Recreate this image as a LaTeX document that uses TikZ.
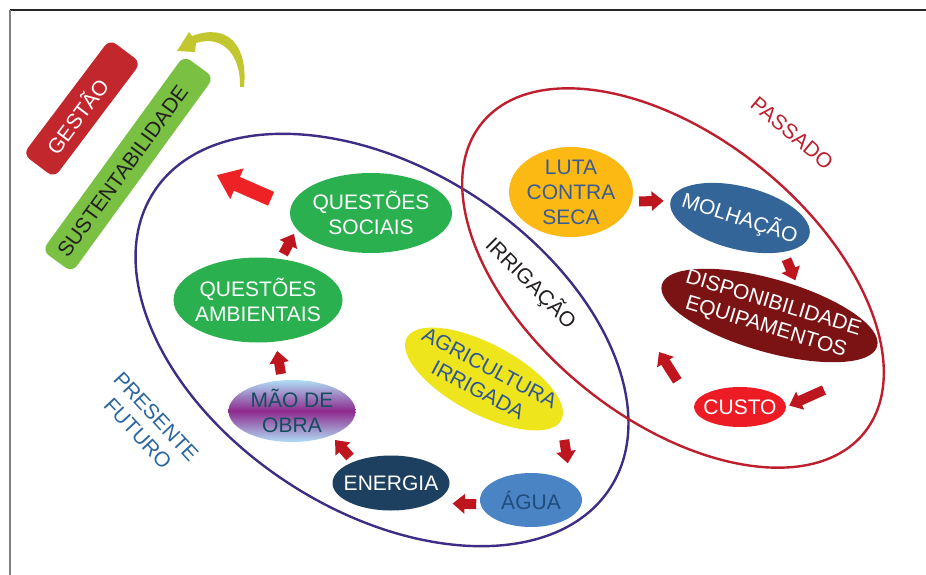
\documentclass[tikz,border=0pt]{standalone}
\usepackage{fontspec}
\setmainfont{Liberation Sans}
\usetikzlibrary{arrows.meta}
\usetikzlibrary{shapes.geometric}
\usetikzlibrary{calc}

\definecolor{vermgestao}{HTML}{C1272D}
\definecolor{verdesust}{HTML}{7AC143}
\definecolor{oliva}{HTML}{C3C72F}
\definecolor{azulelipse}{HTML}{3F2D85}
\definecolor{vermelipse}{HTML}{BE1E2D}
\definecolor{verdeq}{HTML}{2AB04F}
\definecolor{laranja}{HTML}{FDB913}
\definecolor{textoluta}{HTML}{3A5C94}
\definecolor{azulmolha}{HTML}{336598}
\definecolor{vinho}{HTML}{7B1315}
\definecolor{vermcusto}{HTML}{ED1C24}
\definecolor{azulnoite}{HTML}{1D3F60}
\definecolor{azulagua}{HTML}{4A84C4}
\definecolor{textoagua}{HTML}{1E4C7C}
\definecolor{amarelo}{HTML}{EEE51C}
\definecolor{textoagri}{HTML}{2F5697}
\definecolor{azulclaro}{HTML}{AEDDF5}
\definecolor{roxo}{HTML}{8E2A8D}
\definecolor{textomao}{HTML}{124E5E}
\definecolor{setavinho}{HTML}{BE161E}
\definecolor{setavermelha}{HTML}{EE2225}
\definecolor{azulpresente}{HTML}{2B679E}
\definecolor{quasepreto}{HTML}{231F20}

\tikzset{
  bolha/.style={ellipse, inner sep=0pt, outer sep=0pt},
  caixa/.style={rectangle, rounded corners=8pt, inner sep=0pt},
  rotulo/.style={align=center, inner sep=0pt, font=\fontsize{21}{25}\selectfont},
  seta/.style={draw=setavinho, line width=10pt, -{Triangle[width=19pt,length=12pt]}},
  setagrande/.style={draw=setavermelha, line width=15pt, -{Triangle[width=32pt,length=22pt]}}
}

\begin{document}
\begin{tikzpicture}[x=1pt,y=-1pt]

    \useasboundingbox (0,0) rectangle (926,575);

    % frame
    \draw[black!85, line width=1.4pt] (10,10) -- (926,10);
    \draw[black!50, line width=1.4pt] (10,10) -- (10,575);

    % big ellipses
    \draw[azulelipse, line width=2.4pt, rotate around={-33:(382,340)}] (382,340) ellipse [x radius=272pt, y radius=171pt];
    \draw[vermelipse, line width=2.4pt, rotate around={-39:(673,278)}] (673,278) ellipse [x radius=246pt, y radius=141pt];

    % boxes
    \node[caixa, fill=vermgestao, minimum width=144pt, minimum height=39pt, rotate=53] (gestao) at (82,108.5) {};
    \node[rotulo, white, rotate=53] (gestao-t) at ($(gestao.center)!9pt!(gestao.west)$) {GESTÃO};
    \node[caixa, fill=verdesust, minimum width=241pt, minimum height=37pt, rotate=54] (sust) at (128,164) {};
    \node[rotulo, text=quasepreto, rotate=54] (sust-t) at ($(sust.center)!9pt!(sust.west)$) {SUSTENTABILIDADE};

    % curved arrow
    \fill[oliva] (240,87) .. controls (241,58) and (225,34) .. (196,43) -- (195,52) -- (177,51) -- (189,32) -- (192,36) .. controls (230,22) and (248,48) .. (244,87) -- cycle;

    % left cycle
    \node[bolha, fill=verdeq, minimum width=162pt, minimum height=80pt] (sociais) at (371,213) {};
    \node[rotulo, white] (sociais-t) at (sociais) {QUESTÕES\\SOCIAIS};
    \node[bolha, fill=verdeq, minimum width=169pt, minimum height=85pt] (ambientais) at (258,300) {};
    \node[rotulo, white] (ambientais-t) at (ambientais) {QUESTÕES\\AMBIENTAIS};
    \node[bolha, top color=azulclaro, bottom color=azulclaro, middle color=roxo, minimum width=127pt, minimum height=62pt] (mao) at (292,411) {};
    \node[rotulo, text=textomao] (mao-t) at (mao) {MÃO DE\\OBRA};
    \node[bolha, fill=azulnoite, minimum width=117pt, minimum height=55pt] (energia) at (391,483) {};
    \node[rotulo, white] (energia-t) at (energia) {ENERGIA};
    \node[bolha, fill=azulagua, minimum width=102pt, minimum height=54pt] (agua) at (531,500) {};
    \node[rotulo, text=textoagua] (agua-t) at (agua) {ÁGUA};
    \node[bolha, fill=amarelo, minimum width=175pt, minimum height=70pt, rotate=-28] (agricultura) at (484,379) {};
    \node[rotulo, text=textoagri, rotate=-28] (agricultura-t) at (agricultura) {AGRICULTURA\\IRRIGADA};

    % right cycle
    \node[bolha, fill=laranja, minimum width=124pt, minimum height=90pt] (luta) at (571,192) {};
    \node[rotulo, text=textoluta] (luta-t) at (luta) {LUTA\\CONTRA\\SECA};
    \node[bolha, fill=azulmolha, minimum width=143pt, minimum height=63pt, rotate=-14] (molhacao) at (740,218) {};
    \node[rotulo, white, rotate=-18] (molhacao-t) at (molhacao) {MOLHAÇÃO};
    \node[bolha, fill=vinho, minimum width=224pt, minimum height=73pt, rotate=-16] (disp) at (769.5,315.5) {};
    \node[rotulo, white, rotate=-17] (disp-t) at (disp) {DISPONIBILIDADE\\EQUIPAMENTOS};
    \node[bolha, fill=vermcusto, minimum width=92pt, minimum height=40pt] (custo) at (740,407) {};
    \node[rotulo, white] (custo-t) at (custo) {CUSTO};

    % labels
    \node[rotulo, text=vermelipse, rotate=-40] (passado) at (792,133) {PASSADO};
    \node[rotulo, text=quasepreto, rotate=-45] (irrigacao) at (531,283) {IRRIGAÇÃO};
    \node[rotulo, text=azulpresente, rotate=-47] (presente) at (147,425) {PRESENTE\\FUTURO};

    % arrows
    \draw[setagrande, shorten <=21.5pt, shorten >=61pt] (sociais.176) -- ($(sust.south)!0.25!(sust.south east)$);
    \draw[seta, shorten <=5.7pt, shorten >=5.7pt] (ambientais.61) -- (sociais.192);
    \draw[seta, shorten <=6.5pt, shorten >=9.5pt] (mao.108) -- (ambientais.-67);
    \draw[seta, shorten <=6.2pt, shorten >=6pt] (energia.150) -- (mao.-32);
    \draw[seta, shorten <=4.5pt, shorten >=21pt] (agua.185) -- (energia.-26.5);
    \draw[seta, shorten <=20pt, shorten >=20pt] (agricultura.east) -- (agua.23);

    \draw[seta, shorten <=7.5pt, shorten >=7pt] (luta.-9) -- (molhacao.west);
    \draw[seta, shorten <=8pt, shorten >=6.3pt] (molhacao.-24) -- (disp.62);
    \coordinate (disp-saida) at (824,390);
    \draw[seta, shorten >=3.5pt] (disp-saida) -- (custo.east);
    \coordinate (retorno) at (659,352);
    \draw[seta, shorten <=31pt] (custo.west) -- (retorno);

\end{tikzpicture}
\end{document}
